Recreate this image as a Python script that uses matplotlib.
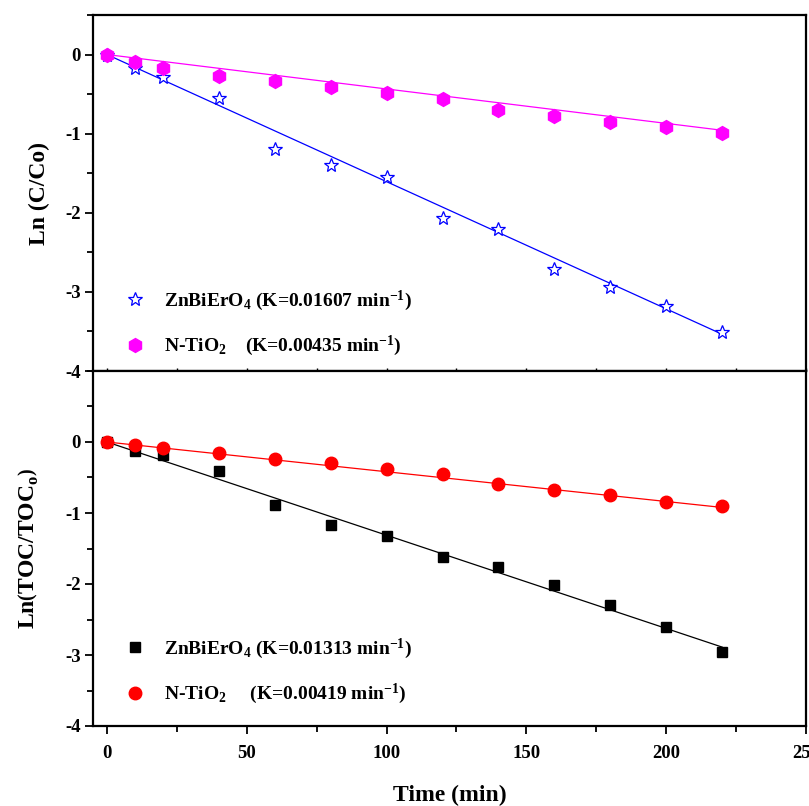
import numpy as np
import matplotlib
matplotlib.use("Agg")
import matplotlib.pyplot as plt
from matplotlib.ticker import MultipleLocator

plt.rcParams['font.family'] = ['Liberation Serif', 'DejaVu Serif']
plt.rcParams['font.weight'] = 'bold'
plt.rcParams['mathtext.fontset'] = 'custom'
plt.rcParams['mathtext.rm'] = 'Liberation Serif:bold'
plt.rcParams['mathtext.it'] = 'Liberation Serif:italic:bold'
plt.rcParams['mathtext.bf'] = 'Liberation Serif:bold'

time_min = [0, 10, 20, 40, 60, 80, 100, 120, 140, 160, 180, 200, 220]

# Top panel: Ln(C/Co)
cc_znbiero4 = [0, -0.17, -0.28, -0.55, -1.20, -1.40, -1.55, -2.06, -2.20, -2.71, -2.94, -3.18, -3.51]
cc_ntio2 = [0, -0.09, -0.17, -0.27, -0.34, -0.41, -0.48, -0.56, -0.70, -0.78, -0.85, -0.92, -0.99]
k_cc_znbiero4 = 0.01607
k_cc_ntio2 = 0.00435

# Bottom panel: Ln(TOC/TOCo)
toc_znbiero4 = [0, -0.13, -0.19, -0.41, -0.89, -1.17, -1.33, -1.62, -1.76, -2.02, -2.30, -2.60, -2.96]
toc_ntio2 = [0, -0.04, -0.09, -0.15, -0.24, -0.29, -0.38, -0.45, -0.59, -0.68, -0.74, -0.85, -0.90]
k_toc_znbiero4 = 0.01313
k_toc_ntio2 = 0.00419

x_ticks = [0, 50, 100, 150, 200, 250]

t = np.array(time_min, dtype=float)
fit_t = np.array([t[0], t[-1]])

fig = plt.figure(figsize=(8.09, 8.06), dpi=100)
L, R = 93 / 809, 806 / 809
ax1 = fig.add_axes([L, 1 - 371 / 806, R - L, (371 - 15) / 806])
ax2 = fig.add_axes([L, 1 - 726 / 806, R - L, (726 - 371) / 806])

lw_sp = 1.6
for ax in (ax1, ax2):
    for s in ax.spines.values():
        s.set_linewidth(lw_sp)
    ax.set_xlim(-5, 250)
    ax.xaxis.set_major_locator(MultipleLocator(50))
    ax.xaxis.set_minor_locator(MultipleLocator(25))
    ax.yaxis.set_major_locator(MultipleLocator(1))
    ax.yaxis.set_minor_locator(MultipleLocator(0.5))
    ax.tick_params(axis='y', which='major', direction='out', length=6, width=1.3,
                   labelsize=13.5, pad=3)
    ax.tick_params(axis='y', which='minor', direction='out', length=4, width=1.3)

leg_kw = dict(loc='lower left', frameon=False,
              prop={'size': 14, 'weight': 'bold'}, labelspacing=1.1,
              handletextpad=0.7, handlelength=1.6)

# ---- top panel
ax1.set_ylim(-4, 0.5)
ax1.plot(fit_t, -k_cc_znbiero4 * fit_t, color='blue', lw=0.9, zorder=2)
ax1.plot(fit_t, -k_cc_ntio2 * fit_t, color='magenta', lw=0.9, zorder=2)
ax1.plot(t, cc_znbiero4, linestyle='none', marker='*', ms=10.5, mfc='white',
         mec='blue', mew=0.9, zorder=3,
         label=r'ZnBiErO$_{4}$ (K=0.01607 min$^{-1}$)')
ax1.plot(t, cc_ntio2, linestyle='none', marker='h', ms=10, mfc='magenta',
         mec='magenta', zorder=3,
         label=r'N-TiO$_{2}$    (K=0.00435 min$^{-1}$)')
ax1.tick_params(axis='x', which='both', direction='in', length=2, width=1,
                labelbottom=False)
ax1.set_yticks([0, -1, -2, -3, -4])
ax1.set_yticklabels(['0', '-1', '-2', '-3', '-4'], fontweight='bold')
ax1.set_ylabel('Ln (C/Co)', fontsize=17, fontweight='bold')
ax1.yaxis.set_label_coords(-0.06, 0.5)
ax1.legend(bbox_to_anchor=(0.013, -0.014), **leg_kw)

# ---- bottom panel
ax2.set_ylim(-4, 1)
ax2.plot(fit_t, -k_toc_znbiero4 * fit_t, color='black', lw=0.9, zorder=2)
ax2.plot(fit_t, -k_toc_ntio2 * fit_t, color='red', lw=0.9, zorder=2)
ax2.plot(t, toc_znbiero4, linestyle='none', marker='s', ms=7.5, color='black',
         zorder=3, label=r'ZnBiErO$_{4}$ (K=0.01313 min$^{-1}$)')
ax2.plot(t, toc_ntio2, linestyle='none', marker='o', ms=9, color='red',
         zorder=3, label=r'N-TiO$_{2}$     (K=0.00419 min$^{-1}$)')
ax2.set_yticks([0, -1, -2, -3, -4])
ax2.set_yticklabels(['0', '-1', '-2', '-3', '-4'], fontweight='bold')
ax2.set_xticks(x_ticks)
ax2.set_xticklabels([str(v) for v in x_ticks], fontweight='bold')
ax2.tick_params(axis='x', which='major', direction='out', length=6, width=1.3,
                labelsize=13.5, pad=8)
ax2.tick_params(axis='x', which='minor', direction='out', length=4, width=1.3)
ax2.set_xlabel('Time (min)', fontsize=17, fontweight='bold', labelpad=16)
ax2.set_ylabel(r'$\mathrm{Ln}\left(\mathrm{TOC/TOC_o}\right)$', fontsize=17)
ax2.yaxis.set_label_coords(-0.074, 0.5)
ax2.legend(bbox_to_anchor=(0.013, 0.006), **leg_kw)

fig.savefig('out.png', dpi=100)
